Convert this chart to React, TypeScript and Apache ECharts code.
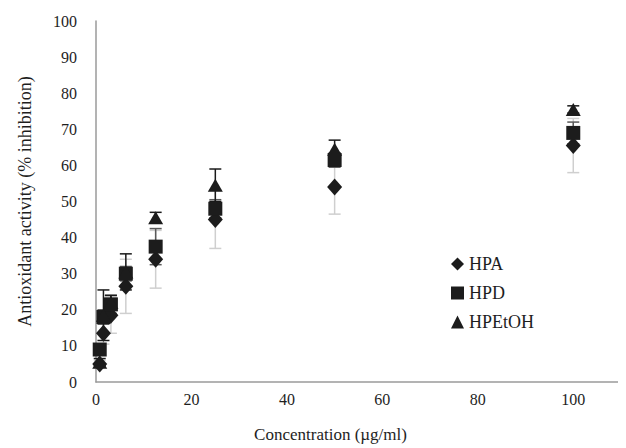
import React, { useEffect, useRef } from "react";
import * as echarts from "echarts";

// Concentration series (µg/ml) and % inhibition for each extract
const concentrations = [0.78, 1.56, 3.125, 6.25, 12.5, 25, 50, 100];
const hpaValues = [5, 13.5, 18.5, 26.5, 34, 45, 54, 65.5];
const hpaErrors = [1, 3, 5, 7.5, 8, 8, 7.5, 7.5];
const hpdValues = [9, 18, 21.5, 30, 37.5, 48, 61.5, 69];
const hpdErrors = [1.5, 2, 2.5, 2, 5, 2.5, 2, 3];
const hpetohValues = [5.5, 18.5, 22, 30.5, 45.5, 54.5, 64.5, 75.5];
const hpetohErrors = [1, 7, 2, 5, 1.5, 4.5, 2.5, 1];
const xTicks = [0, 20, 40, 60, 80, 100];

const FONT = "Liberation Serif";
const MARK = "#1c1c1c";
const TEXT = "#1e1e1e";

function points(values: number[]) {
  return concentrations.map((c, i) => [c, values[i]]);
}

function errorRows(values: number[], errs: number[]) {
  return concentrations.map((c, i) => [c, values[i] - errs[i], values[i] + errs[i]]);
}

function errorSeries(name: string, values: number[], errs: number[], color: string, z: number) {
  return {
    type: "custom",
    name: name + " error",
    z,
    silent: true,
    data: errorRows(values, errs),
    encode: { x: 0, y: [1, 2] },
    renderItem: (_params: any, api: any) => {
      const x = api.value(0);
      const lo = api.coord([x, api.value(1)]);
      const hi = api.coord([x, api.value(2)]);
      const half = 6;
      const style = { stroke: color, lineWidth: 1.5 };
      return {
        type: "group",
        children: [
          { type: "line", shape: { x1: lo[0], y1: lo[1], x2: hi[0], y2: hi[1] }, style },
          { type: "line", shape: { x1: lo[0] - half, y1: lo[1], x2: lo[0] + half, y2: lo[1] }, style },
          { type: "line", shape: { x1: hi[0] - half, y1: hi[1], x2: hi[0] + half, y2: hi[1] }, style },
        ],
      };
    },
  };
}

function markerSeries(name: string, values: number[], symbol: string, size: number | number[], z: number) {
  return {
    type: "scatter",
    name,
    z,
    symbol,
    symbolSize: size,
    itemStyle: { color: MARK, opacity: 1 },
    data: points(values),
  };
}

export default function App() {
  const ref = useRef<HTMLDivElement>(null);

  useEffect(() => {
    if (!ref.current) return;
    const chart = echarts.init(ref.current, undefined, { renderer: "svg" });
    chart.setOption({
      animation: false,
      backgroundColor: "#ffffff",
      textStyle: { fontFamily: FONT },
      grid: { left: 88, right: 5, top: 13, bottom: 65, containLabel: false },
      legend: {
        orient: "vertical",
        left: 438,
        top: 242,
        itemGap: 11,
        itemWidth: 13,
        itemHeight: 13,
        textStyle: { fontFamily: FONT, fontSize: 18, color: TEXT },
        data: [
          { name: "HPA", icon: "diamond" },
          { name: "HPD", icon: "rect" },
          { name: "HPEtOH", icon: "triangle" },
        ],
      },
      xAxis: {
        type: "value",
        min: 0,
        max: 110,
        interval: 20,
        name: "Concentration (µg/ml)",
        nameLocation: "middle",
        nameGap: 44,
        nameTextStyle: { fontFamily: FONT, fontSize: 17, color: TEXT, padding: [0, 56, 0, 0] },
        axisLine: { lineStyle: { color: "#9a9a9a", width: 1.5 } },
        axisTick: { show: false },
        splitLine: { show: false },
        axisLabel: {
          fontFamily: FONT,
          fontSize: 16,
          color: TEXT,
          margin: 9,
          formatter: (v: number) => (xTicks.includes(v) ? String(v) : ""),
        },
      },
      yAxis: {
        type: "value",
        min: 0,
        max: 100,
        interval: 10,
        name: "Antioxidant activity (% inhibition)",
        nameLocation: "middle",
        nameGap: 62,
        nameTextStyle: { fontFamily: FONT, fontSize: 18, color: TEXT },
        axisLine: { show: true, lineStyle: { color: "#9a9a9a", width: 1.5 } },
        axisTick: { show: false },
        splitLine: { show: false },
        axisLabel: { fontFamily: FONT, fontSize: 16, color: TEXT, margin: 19 },
      },
      series: [
        errorSeries("HPA", hpaValues, hpaErrors, "#cfcfcf", 1),
        errorSeries("HPD", hpdValues, hpdErrors, "#5a5a5a", 1),
        errorSeries("HPEtOH", hpetohValues, hpetohErrors, "#1a1a1a", 1),
        markerSeries("HPA", hpaValues, "diamond", [15, 17], 3),
        markerSeries("HPD", hpdValues, "rect", 14, 4),
        markerSeries("HPEtOH", hpetohValues, "triangle", [15, 13], 5),
      ],
    });
    return () => chart.dispose();
  }, []);

  return <div ref={ref} style={{ width: 618, height: 440 }} />;
}
